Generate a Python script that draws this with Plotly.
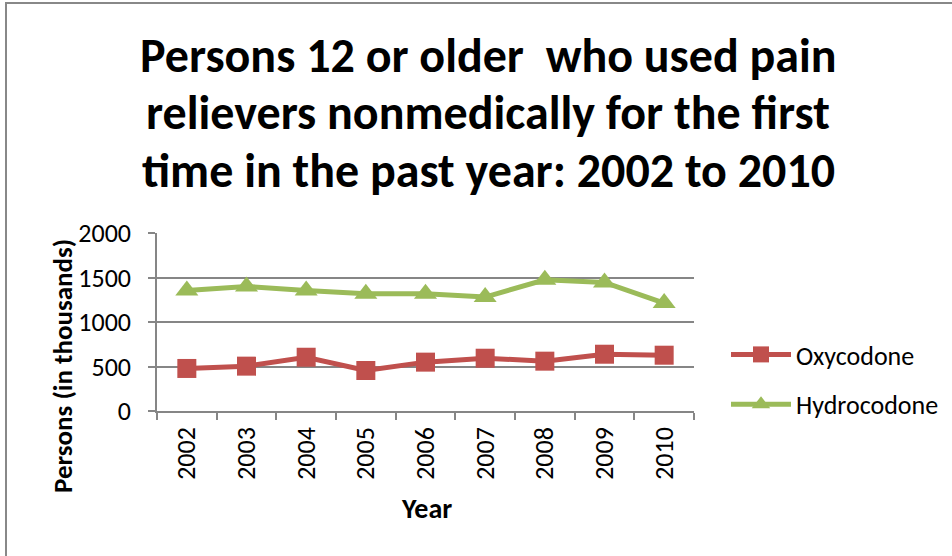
import plotly.graph_objects as go

years = ["2002", "2003", "2004", "2005", "2006", "2007", "2008", "2009", "2010"]
oxycodone = [478, 504, 604, 455, 549, 593, 560, 638, 627]
hydrocodone = [1354, 1399, 1354, 1317, 1317, 1280, 1474, 1444, 1213]
y_ticks = [0, 500, 1000, 1500, 2000]
title_lines = [
    "Persons 12 or older  who used pain",
    "relievers nonmedically for the first",
    "time in the past year: 2002 to 2010",
]

FONT = "Carlito, Lato, 'Open Sans', sans-serif"
GRID = "#868686"

fig = go.Figure()
fig.add_trace(go.Scatter(
    x=years, y=oxycodone, name="Oxycodone", mode="lines+markers",
    legendgroup="a",
    line=dict(color="#C0504D", width=5),
    marker=dict(symbol="square", size=19, color="#C0504D"),
))
fig.add_trace(go.Scatter(
    x=years, y=hydrocodone, name="Hydrocodone", mode="lines+markers",
    legendgroup="b",
    line=dict(color="#9BBB59", width=5),
    marker=dict(symbol="triangle-up", size=20, color="#9BBB59"),
))

L, R, T, B = 157, 258, 233, 145
W, H = 952, 556
pw, ph = W - L - R, H - T - B

def px(x):
    return (x - L) / pw

def py(y):
    return (411 - y) / ph

fig.update_layout(
    width=W, height=H,
    margin=dict(l=L, r=R, t=T, b=B, autoexpand=False),
    paper_bgcolor="white", plot_bgcolor="white",
    font=dict(family=FONT, color="black"),
    legend=dict(
        x=px(726), xanchor="left", y=py(331), yanchor="top",
        font=dict(size=26, family=FONT), itemwidth=60, tracegroupgap=13,
        bgcolor="rgba(0,0,0,0)",
    ),
    showlegend=True,
)

for line, yc in zip(title_lines, [55, 113, 170]):
    fig.add_annotation(
        text=line, xref="paper", yref="paper",
        x=px(488), y=py(yc), xanchor="center", yanchor="middle",
        showarrow=False, font=dict(family=FONT, size=48, color="black", weight="bold"),
    )

fig.add_annotation(
    text="Persons (in thousands)", xref="paper", yref="paper",
    x=px(62), y=py(366), xanchor="center", yanchor="middle", textangle=-90,
    showarrow=False, font=dict(family=FONT, size=27, color="black", weight="bold"),
)
fig.add_annotation(
    text="Year", xref="paper", yref="paper",
    x=px(426), y=py(508), xanchor="center", yanchor="middle",
    showarrow=False, font=dict(family=FONT, size=28, color="black", weight="bold"),
)

fig.update_xaxes(
    type="category", tickson="boundaries",
    showline=True, linecolor=GRID, linewidth=1.5,
    ticks="outside", ticklen=7, tickcolor=GRID, tickwidth=1.5,
    tickangle=-90, tickfont=dict(size=26, family=FONT),
    ticklabelstandoff=4,
    showgrid=False,
    range=[-0.5, 8.5],
)
fig.update_yaxes(
    range=[0, 2000], tickvals=y_ticks,
    showline=True, linecolor=GRID, linewidth=1.5,
    ticks="outside", ticklen=7, tickcolor=GRID, tickwidth=1.5,
    showgrid=True, gridcolor=GRID, gridwidth=1.5,
    tickfont=dict(size=26, family=FONT),
    ticklabelstandoff=12,
    zeroline=False,
)

# outer chart border (top and left visible)
fig.add_shape(
    type="rect", xref="paper", yref="paper",
    x0=px(6), x1=px(W + 20),
    y0=py(H + 20), y1=py(3),
    line=dict(color="#888888", width=2), layer="below",
)

fig.write_html("out.html")
